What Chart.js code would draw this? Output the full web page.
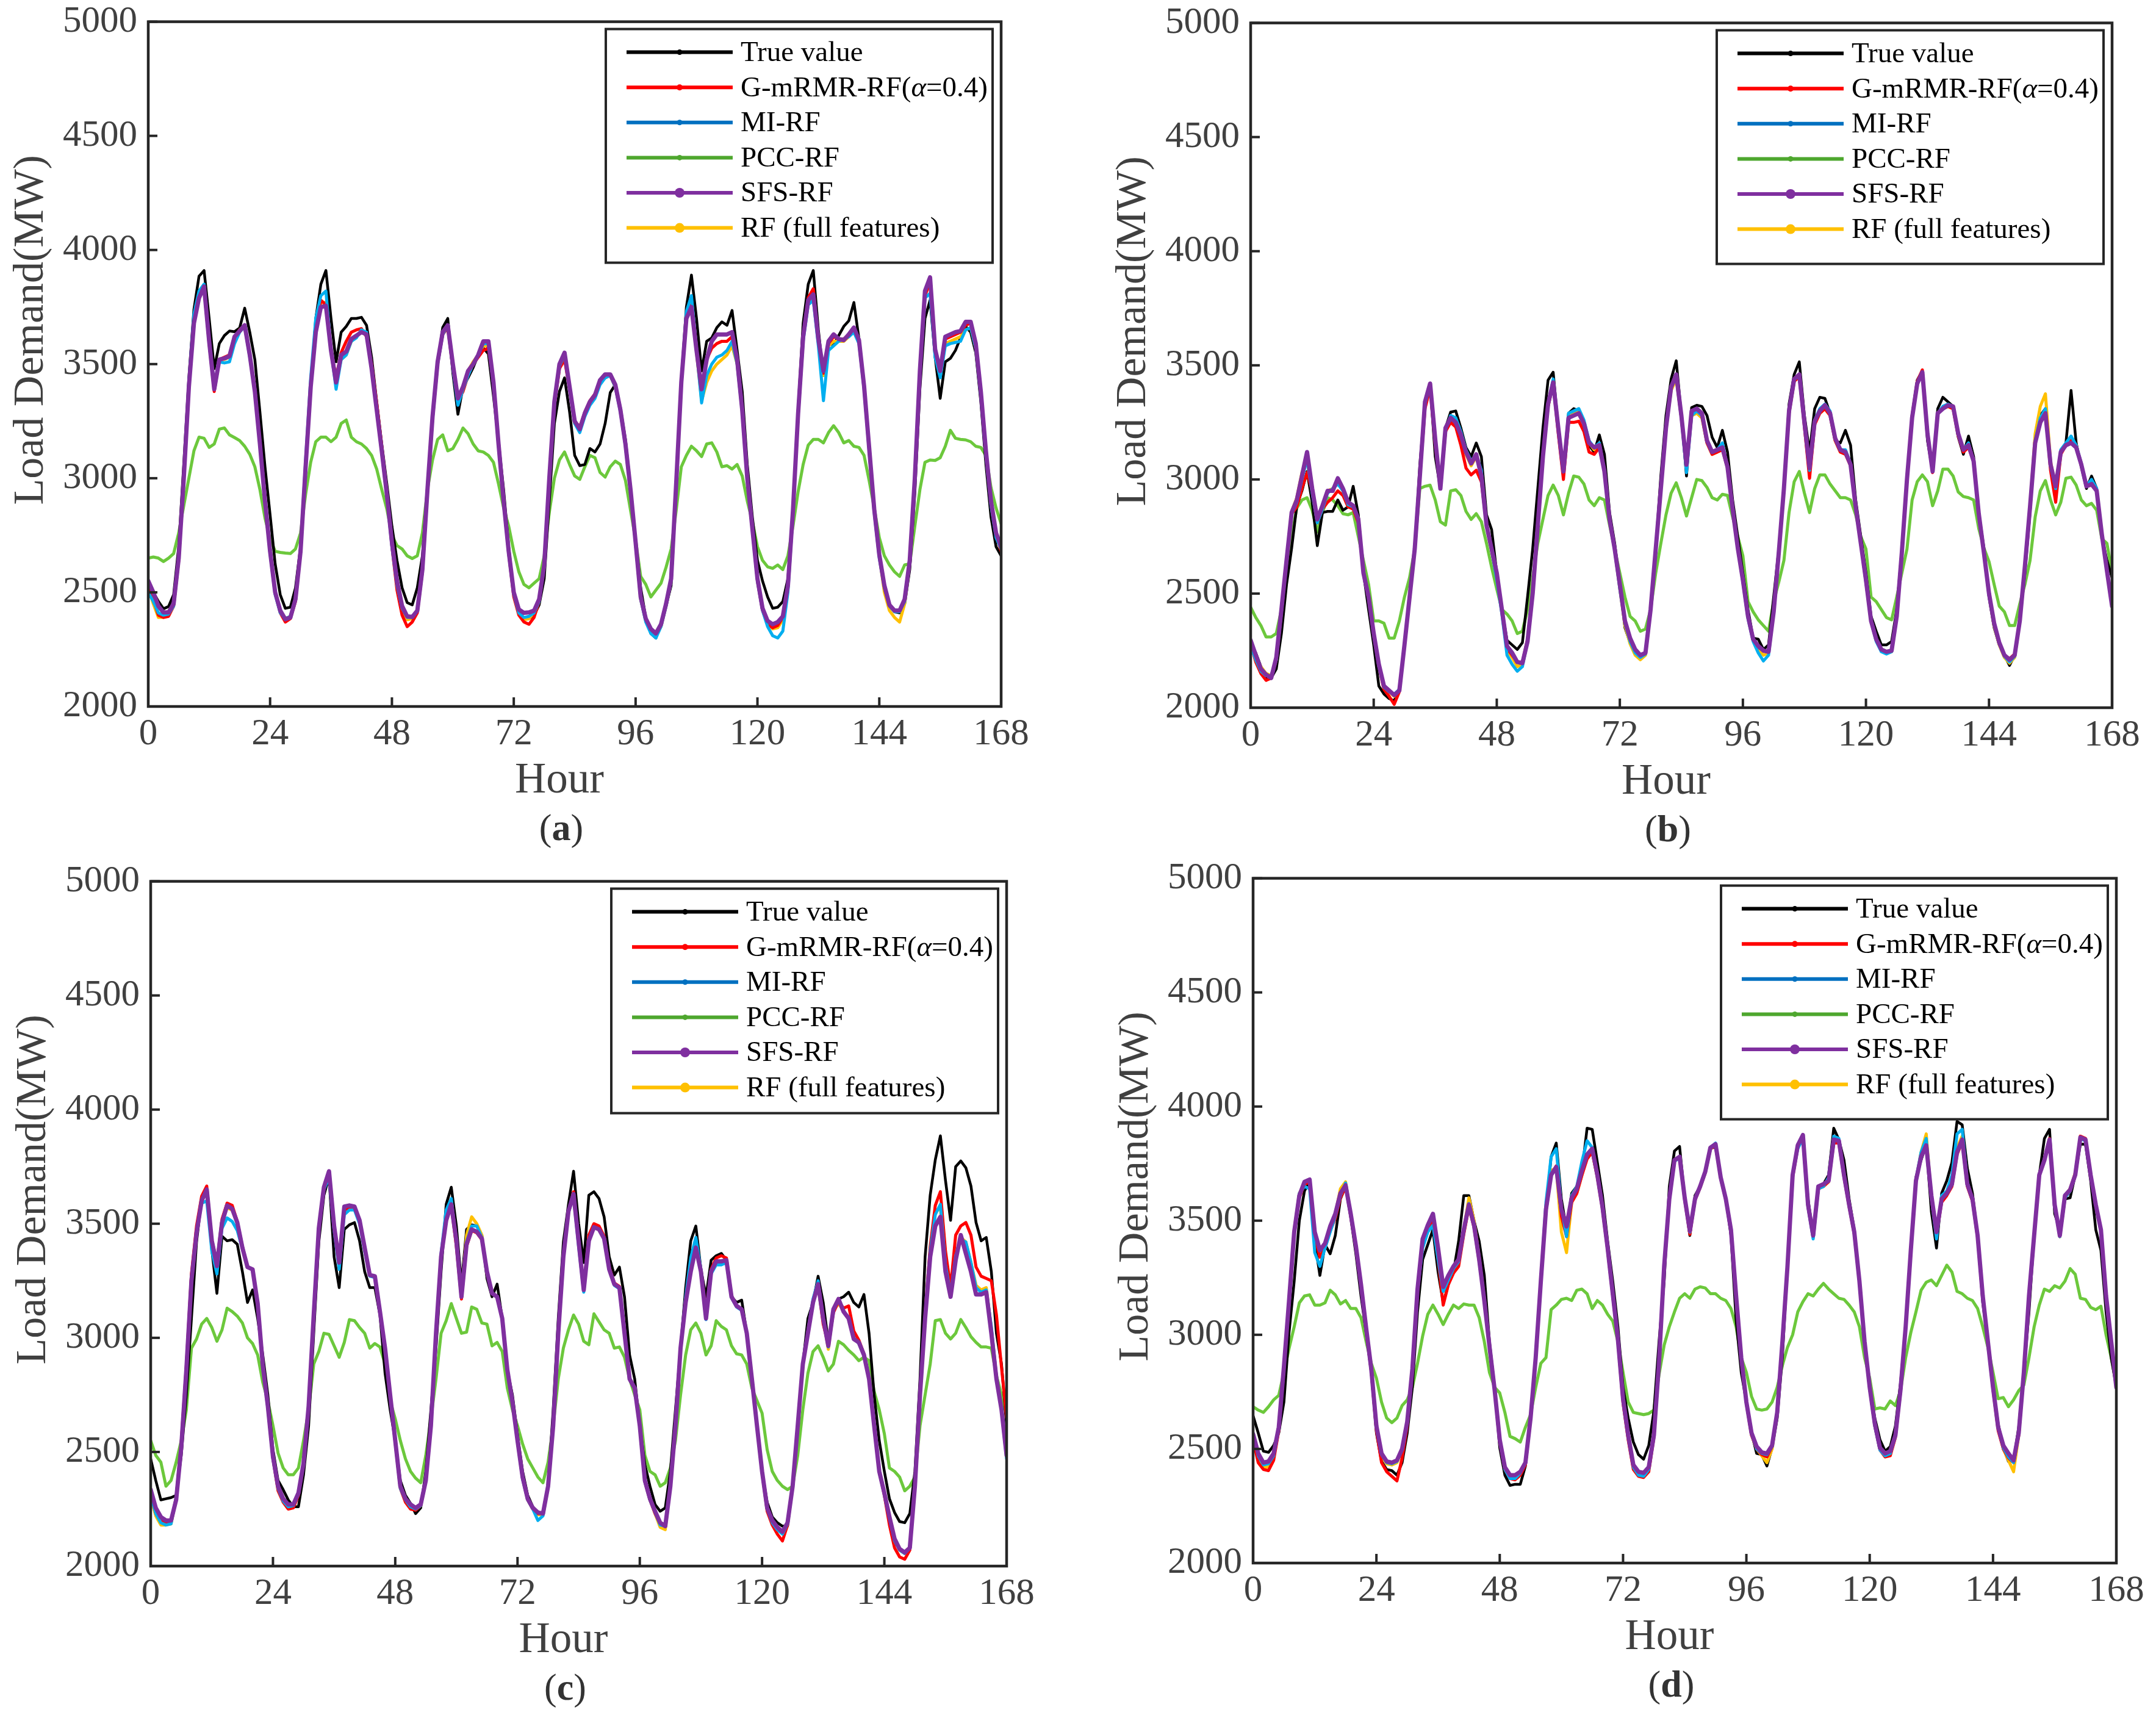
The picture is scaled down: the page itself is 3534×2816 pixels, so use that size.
<!DOCTYPE html>
<html><head><meta charset="utf-8">
<script src="https://cdn.jsdelivr.net/npm/chart.js@4.4.1/dist/chart.umd.min.js"></script>
<style>
html,body{margin:0;padding:0;background:#fff;}
body{width:3534px;height:2816px;position:relative;overflow:hidden;}
canvas{position:absolute;}
</style></head><body>
<canvas id="ca"></canvas><canvas id="cb"></canvas><canvas id="cc"></canvas><canvas id="cd"></canvas>
<script>
// ---------- categories / ticks ----------
const hours = Array.from({length:169},(_,i)=>i);
const xTicks = [0,24,48,72,96,120,144,168];
const yTicks = [2000,2500,3000,3500,4000,4500,5000];
const seriesNames = ['True value','G-mRMR-RF(α=0.4)','MI-RF','PCC-RF','SFS-RF','RF (full features)'];
const panelTags = ['a','b','c','d'];
const xTitle = 'Hour';
const yTitle = 'Load Demand(MW)';

// ---------- panel (a) ----------
const aTrue=[2500,2500,2460,2428,2438,2490,2700,3065,3440,3740,3885,3910,3700,3480,3590,3625,3645,3642,3658,3745,3640,3520,3290,3050,
2840,2625,2490,2430,2435,2520,2700,3050,3400,3700,3850,3910,3700,3510,3640,3665,3700,3700,3705,3670,3530,3335,3150,2975,
2790,2640,2520,2455,2445,2520,2660,2970,3270,3500,3660,3700,3460,3280,3400,3440,3485,3540,3570,3545,3360,3160,2950,2700,
2500,2420,2385,2385,2400,2445,2560,2900,3240,3380,3440,3290,3100,3055,3060,3130,3115,3150,3240,3375,3410,3310,3170,2960,
2730,2520,2390,2320,2300,2360,2440,2530,2960,3430,3750,3890,3700,3470,3600,3615,3660,3685,3670,3735,3560,3380,3060,2830,
2640,2550,2480,2430,2435,2460,2560,2850,3300,3680,3850,3910,3650,3450,3590,3585,3625,3665,3690,3770,3610,3410,3140,2870,
2670,2530,2445,2415,2410,2450,2600,2935,3390,3700,3780,3530,3350,3510,3525,3560,3615,3665,3640,3550,3335,3060,2830,2700,2660];
const aGM=[2530,2470,2400,2390,2395,2440,2640,3000,3400,3690,3800,3830,3590,3380,3520,3530,3540,3620,3650,3660,3540,3390,3160,2910,
2680,2500,2410,2370,2385,2460,2680,3060,3410,3660,3780,3760,3560,3440,3550,3600,3640,3650,3655,3620,3500,3330,3140,2940,
2700,2510,2400,2350,2370,2410,2590,2940,3260,3500,3630,3660,3480,3340,3380,3450,3500,3530,3560,3570,3420,3160,2910,2670,
2480,2400,2370,2360,2390,2460,2620,3000,3320,3480,3520,3390,3250,3225,3290,3340,3370,3420,3440,3450,3400,3300,3150,2950,
2720,2480,2380,2335,2320,2360,2450,2560,2980,3420,3700,3760,3560,3400,3520,3570,3590,3600,3600,3620,3520,3300,3000,2780,
2550,2420,2360,2345,2355,2390,2530,2860,3280,3630,3790,3830,3610,3460,3590,3620,3610,3610,3630,3650,3600,3400,3130,2860,
2660,2520,2440,2420,2420,2470,2640,3000,3470,3800,3860,3560,3480,3610,3620,3630,3640,3670,3680,3580,3370,3110,2890,2750,2680];
const aMI=[2500,2460,2410,2400,2405,2440,2650,3010,3420,3720,3820,3850,3600,3410,3510,3505,3510,3590,3640,3665,3530,3380,3150,2900,
2670,2490,2410,2385,2395,2470,2690,3080,3440,3700,3800,3820,3560,3390,3520,3540,3600,3615,3650,3640,3480,3300,3110,2920,
2700,2530,2430,2390,2390,2420,2590,2950,3260,3500,3630,3670,3480,3320,3390,3450,3500,3540,3590,3590,3410,3140,2890,2670,
2490,2410,2390,2395,2410,2460,2620,3000,3330,3490,3540,3390,3240,3200,3270,3320,3350,3410,3440,3450,3400,3290,3140,2940,
2710,2470,2370,2320,2300,2350,2440,2550,2980,3410,3730,3800,3560,3330,3450,3500,3530,3540,3560,3600,3500,3290,2990,2770,
2550,2420,2350,2310,2300,2330,2500,2850,3270,3600,3760,3780,3580,3340,3560,3580,3600,3610,3620,3640,3590,3390,3120,2850,
2650,2520,2440,2415,2415,2460,2630,2990,3460,3790,3810,3530,3440,3580,3590,3595,3600,3650,3660,3570,3360,3100,2880,2740,2690];
const aPCC=[2650,2655,2650,2635,2650,2670,2760,2880,3000,3120,3180,3175,3135,3150,3215,3220,3190,3178,3165,3140,3105,3050,2950,2825,
2735,2680,2675,2672,2670,2690,2760,2930,3070,3160,3180,3180,3160,3180,3240,3255,3180,3160,3150,3130,3100,3040,2950,2865,
2750,2705,2690,2660,2648,2660,2760,2950,3080,3170,3190,3120,3130,3170,3220,3195,3150,3120,3115,3100,3070,2975,2870,2790,
2680,2590,2535,2520,2540,2560,2660,2850,3000,3080,3115,3060,3010,2995,3050,3100,3090,3025,3005,3050,3075,3060,2990,2860,
2730,2570,2535,2480,2510,2540,2610,2690,2860,3050,3100,3140,3120,3095,3150,3155,3115,3050,3055,3040,3060,3010,2900,2810,
2700,2640,2612,2605,2620,2600,2660,2790,2940,3060,3145,3170,3170,3155,3200,3230,3200,3155,3165,3140,3135,3100,2990,2870,
2740,2660,2620,2590,2570,2620,2625,2790,2950,3070,3080,3078,3090,3140,3210,3175,3170,3168,3160,3140,3135,3100,2960,2870,2800];
const aSFS=[2550,2500,2440,2412,2412,2450,2650,3000,3400,3680,3790,3840,3600,3390,3520,3525,3535,3620,3645,3670,3540,3380,3150,2900,
2680,2500,2420,2382,2390,2470,2680,3050,3400,3640,3750,3755,3560,3420,3540,3555,3610,3625,3640,3630,3480,3300,3120,2930,
2720,2550,2440,2395,2392,2420,2600,2950,3270,3510,3640,3670,3500,3350,3400,3470,3500,3540,3600,3600,3420,3150,2900,2680,
2500,2425,2410,2412,2420,2470,2620,3000,3335,3500,3550,3400,3250,3215,3285,3335,3365,3430,3455,3455,3410,3300,3150,2950,
2720,2480,2385,2340,2320,2360,2450,2560,2980,3420,3700,3750,3560,3390,3520,3600,3630,3630,3630,3640,3520,3300,3000,2780,
2560,2430,2375,2360,2370,2395,2530,2860,3280,3620,3780,3805,3610,3470,3600,3630,3610,3605,3630,3660,3605,3405,3135,2865,
2665,2530,2445,2420,2420,2470,2640,3000,3470,3820,3880,3565,3470,3620,3630,3640,3645,3685,3685,3590,3380,3120,2900,2760,2700];
const aRF=[2520,2450,2390,2390,2400,2440,2640,3000,3410,3700,3800,3830,3590,3400,3520,3520,3530,3610,3650,3670,3540,3390,3150,2900,
2680,2500,2415,2385,2395,2470,2690,3060,3410,3660,3770,3770,3560,3430,3520,3540,3600,3620,3645,3630,3480,3310,3130,2940,
2720,2540,2430,2380,2385,2420,2600,2950,3270,3510,3640,3670,3490,3350,3400,3470,3510,3540,3580,3580,3420,3150,2900,2680,
2490,2410,2380,2385,2410,2470,2620,3000,3330,3490,3540,3390,3240,3215,3280,3330,3360,3420,3450,3450,3400,3300,3150,2950,
2710,2470,2375,2330,2310,2350,2440,2550,2980,3410,3700,3750,3550,3340,3420,3470,3500,3520,3540,3580,3500,3300,3000,2780,
2560,2430,2370,2340,2345,2380,2520,2850,3270,3610,3770,3800,3600,3450,3580,3600,3600,3600,3620,3650,3600,3400,3130,2860,
2660,2500,2420,2390,2370,2450,2630,3000,3460,3800,3860,3550,3450,3590,3600,3610,3620,3650,3660,3570,3370,3110,2890,2750,2690];

// ---------- panel (b) ----------
const bTrue=[2280,2240,2180,2130,2130,2170,2325,2540,2700,2885,2950,3035,2900,2710,2855,2860,2860,2910,2865,2880,2970,2845,2590,2430,
2275,2095,2060,2040,2030,2085,2275,2485,2695,3065,3330,3420,3100,2960,3225,3295,3300,3225,3140,3100,3160,3100,2845,2780,
2590,2430,2295,2275,2255,2285,2485,2695,2960,3225,3435,3470,3225,3035,3290,3310,3300,3245,3150,3120,3195,3110,2855,2720,
2540,2350,2285,2240,2230,2240,2430,2695,3015,3280,3440,3520,3280,3015,3315,3325,3320,3280,3185,3140,3215,3120,2910,2750,
2590,2430,2305,2300,2255,2275,2485,2695,2960,3330,3460,3515,3280,3120,3310,3360,3355,3290,3170,3160,3215,3150,2910,2750,
2590,2400,2335,2275,2275,2290,2430,2695,3015,3280,3435,3475,3170,3035,3310,3360,3340,3320,3185,3110,3190,3100,2855,2700,
2485,2350,2275,2230,2185,2230,2380,2590,2855,3170,3280,3310,3055,2940,3120,3160,3390,3160,3055,2960,3015,2960,2750,2645,2570];
const bGM=[2280,2200,2150,2120,2130,2210,2420,2640,2850,2880,2960,3030,2950,2810,2870,2900,2920,2950,2930,2880,2870,2810,2590,2480,
2320,2180,2080,2050,2015,2070,2275,2490,2700,3010,3310,3400,3150,2960,3210,3250,3230,3150,3050,3020,3040,2990,2800,2690,
2580,2420,2260,2230,2200,2200,2300,2510,2810,3100,3320,3420,3200,3000,3250,3250,3255,3210,3120,3110,3140,3035,2830,2700,
2530,2370,2300,2250,2230,2240,2430,2695,2960,3225,3400,3450,3270,3060,3290,3300,3280,3160,3110,3120,3130,3050,2870,2700,
2560,2400,2300,2265,2250,2245,2420,2680,2960,3290,3430,3450,3230,3005,3240,3290,3310,3280,3170,3120,3110,3060,2880,2720,
2550,2380,2295,2250,2240,2250,2400,2680,3000,3280,3430,3480,3200,3030,3290,3310,3320,3310,3190,3120,3140,3080,2850,2680,
2500,2360,2285,2230,2215,2235,2380,2620,2880,3160,3260,3300,3040,2900,3110,3150,3170,3140,3060,2970,2975,2950,2760,2600,2450];
const bMI=[2270,2210,2160,2140,2140,2210,2420,2640,2850,2900,3000,3090,2940,2810,2870,2940,2960,2980,2950,2890,2880,2820,2590,2480,
2320,2180,2090,2070,2060,2080,2275,2490,2700,3020,3330,3420,3170,2960,3220,3280,3270,3210,3130,3080,3110,3040,2800,2690,
2560,2410,2230,2190,2160,2180,2290,2500,2800,3100,3330,3440,3230,3040,3290,3300,3310,3260,3170,3140,3160,3040,2820,2690,
2520,2370,2290,2240,2220,2235,2430,2695,2960,3220,3400,3450,3270,3030,3280,3300,3280,3170,3120,3130,3160,3050,2870,2700,
2550,2390,2290,2240,2205,2230,2420,2680,2960,3300,3440,3450,3240,3040,3260,3310,3330,3300,3180,3130,3130,3070,2880,2720,
2550,2380,2290,2245,2235,2245,2400,2680,3000,3270,3420,3460,3200,3035,3290,3320,3330,3320,3200,3130,3160,3080,2850,2680,
2490,2360,2280,2225,2200,2225,2380,2620,2880,3170,3270,3310,3060,2960,3130,3160,3190,3150,3070,2970,3000,2960,2760,2600,2450];
const bPCC=[2440,2395,2360,2310,2310,2325,2430,2590,2750,2875,2910,2920,2865,2770,2855,2920,2910,2885,2850,2845,2855,2750,2645,2540,
2380,2380,2370,2305,2305,2380,2485,2570,2695,2960,2970,2975,2910,2815,2800,2950,2955,2930,2860,2825,2850,2815,2720,2615,
2520,2430,2410,2380,2325,2335,2430,2570,2720,2825,2930,2975,2930,2845,2940,3015,3010,2980,2910,2885,2920,2910,2800,2695,
2590,2485,2400,2380,2335,2345,2430,2590,2720,2845,2940,2985,2920,2840,2920,3000,2995,2965,2920,2910,2935,2930,2835,2750,
2665,2465,2420,2385,2360,2335,2465,2550,2645,2855,2990,3035,2940,2855,2960,3020,3020,2980,2950,2920,2920,2910,2845,2750,
2695,2485,2465,2430,2395,2385,2485,2590,2695,2910,2990,3020,2990,2885,2950,3045,3045,3015,2945,2925,2920,2910,2785,2700,
2640,2540,2445,2420,2360,2360,2455,2540,2645,2835,2950,2995,2910,2845,2900,3005,3010,2975,2910,2885,2895,2865,2740,2720,2590];
const bSFS=[2295,2230,2170,2145,2130,2220,2430,2645,2855,2910,3015,3120,2960,2825,2885,2950,2950,3005,2960,2900,2885,2825,2590,2485,
2325,2190,2095,2075,2055,2075,2275,2485,2695,3015,3340,3420,3175,2960,3225,3270,3250,3195,3120,3070,3110,3015,2800,2695,
2590,2430,2270,2240,2200,2195,2290,2500,2800,3100,3330,3425,3225,3035,3270,3280,3290,3245,3160,3140,3150,3035,2825,2695,
2540,2380,2305,2255,2230,2240,2430,2695,2960,3225,3405,3460,3280,3065,3300,3310,3290,3170,3120,3130,3140,3055,2870,2700,
2560,2400,2300,2270,2250,2245,2420,2680,2960,3300,3440,3460,3250,3050,3255,3300,3325,3290,3180,3130,3120,3065,2880,2720,
2560,2380,2300,2255,2245,2250,2400,2680,3000,3270,3420,3470,3200,3035,3290,3310,3325,3320,3200,3130,3150,3080,2850,2680,
2500,2370,2285,2230,2210,2230,2380,2620,2880,3160,3250,3290,3065,2970,3120,3150,3160,3140,3065,2970,2980,2950,2760,2600,2445];
const bRF=[2260,2220,2180,2150,2140,2210,2420,2650,2860,2920,3030,3080,2950,2820,2880,2950,2960,2990,2950,2890,2880,2820,2590,2480,
2320,2190,2090,2070,2050,2075,2275,2490,2700,3015,3330,3410,3170,2960,3210,3260,3250,3190,3110,3060,3100,3020,2800,2690,
2580,2420,2250,2220,2180,2190,2290,2500,2800,3100,3320,3420,3220,3030,3270,3290,3300,3250,3160,3130,3150,3035,2820,2690,
2520,2360,2280,2230,2210,2230,2430,2695,2960,3220,3390,3440,3270,3050,3280,3290,3270,3160,3110,3120,3140,3050,2870,2700,
2555,2395,2300,2260,2230,2240,2420,2680,2960,3290,3430,3450,3240,3030,3250,3290,3310,3280,3170,3120,3120,3060,2880,2720,
2555,2380,2295,2250,2240,2245,2400,2680,3000,3270,3420,3470,3200,3035,3290,3310,3320,3310,3190,3130,3150,3080,2850,2680,
2490,2355,2275,2220,2195,2220,2380,2620,2880,3200,3320,3375,3080,2960,3120,3150,3175,3150,3060,2970,2985,2955,2760,2600,2450];

// ---------- panel (c) ----------
const cTrue=[2470,2375,2290,2295,2300,2310,2485,2750,3085,3420,3610,3650,3385,3195,3445,3425,3430,3410,3290,3155,3210,3085,2925,2750,
2510,2375,2335,2290,2260,2260,2400,2615,3020,3420,3625,3705,3355,3220,3475,3495,3505,3425,3290,3220,3220,3100,2845,2685,
2550,2375,2310,2275,2230,2255,2415,2685,2955,3290,3585,3660,3490,3235,3475,3495,3490,3450,3260,3180,3235,3085,2860,2750,
2575,2415,2310,2260,2235,2230,2350,2685,3085,3420,3585,3730,3500,3330,3625,3640,3610,3530,3355,3275,3310,3180,2925,2820,
2615,2445,2350,2270,2240,2255,2415,2685,2955,3220,3425,3490,3300,3180,3340,3360,3370,3340,3180,3155,3165,3020,2820,2615,
2415,2280,2215,2190,2175,2175,2350,2615,2885,3085,3155,3270,3155,2980,3130,3170,3180,3200,3155,3135,3190,3020,2750,2550,
2415,2295,2235,2195,2190,2230,2415,2820,3355,3625,3780,3885,3690,3515,3750,3775,3745,3665,3505,3425,3440,3290,3020,2885,2615];
const cGM=[2320,2230,2200,2190,2195,2300,2540,2880,3280,3490,3620,3665,3430,3330,3520,3590,3580,3510,3400,3310,3300,3150,2880,2700,
2470,2330,2280,2250,2255,2310,2450,2700,3100,3480,3650,3720,3480,3320,3560,3570,3570,3510,3390,3275,3270,3115,2950,2750,
2540,2340,2280,2250,2245,2265,2375,2615,3020,3350,3510,3580,3400,3170,3400,3470,3460,3430,3285,3195,3180,3085,2860,2720,
2545,2385,2290,2250,2230,2230,2350,2615,3020,3350,3550,3640,3420,3220,3450,3500,3490,3445,3310,3240,3225,3020,2820,2780,
2610,2370,2290,2230,2185,2175,2350,2615,2955,3170,3320,3420,3300,3110,3300,3350,3360,3350,3185,3140,3125,3020,2820,2615,
2410,2240,2180,2140,2110,2180,2350,2615,2885,3030,3160,3230,3060,2970,3110,3160,3130,3140,3030,2990,2930,2820,2615,2415,
2310,2180,2080,2040,2030,2070,2350,2750,3100,3400,3580,3640,3380,3220,3450,3490,3505,3450,3310,3270,3260,3250,3100,2870,2650];
const cMI=[2310,2230,2190,2180,2185,2300,2530,2870,3260,3460,3590,3600,3380,3280,3480,3525,3510,3470,3390,3310,3300,3140,2870,2690,
2470,2340,2285,2260,2265,2315,2450,2700,3100,3480,3650,3700,3470,3300,3540,3560,3560,3500,3380,3270,3265,3110,2950,2745,
2545,2340,2290,2260,2250,2265,2375,2615,3020,3370,3560,3610,3420,3200,3420,3490,3490,3440,3290,3195,3180,3085,2860,2720,
2545,2380,2290,2250,2200,2220,2350,2615,3020,3350,3550,3620,3400,3200,3430,3485,3475,3430,3300,3230,3215,3020,2820,2780,
2610,2370,2290,2235,2180,2175,2350,2615,2955,3180,3350,3440,3300,3080,3280,3320,3320,3330,3175,3135,3120,3020,2820,2615,
2410,2250,2190,2160,2140,2185,2350,2615,2885,3030,3170,3250,3080,2960,3120,3165,3115,3090,3000,2975,2920,2820,2615,2415,
2315,2210,2110,2070,2055,2080,2350,2750,3090,3380,3540,3585,3320,3190,3360,3430,3420,3330,3220,3200,3210,3050,2830,2680,2470];
const cPCC=[2550,2485,2455,2350,2375,2455,2550,2685,2955,2995,3060,3085,3045,2985,3035,3130,3115,3095,3065,3000,2975,2925,2805,2725,
2615,2495,2430,2400,2400,2430,2550,2685,2885,2940,3020,3015,2965,2915,2980,3080,3075,3045,3020,2955,2975,2960,2885,2725,
2645,2550,2470,2415,2385,2365,2485,2645,2820,3020,3075,3150,3085,3020,3025,3135,3125,3065,3060,2965,2980,2940,2780,2685,
2615,2535,2470,2430,2390,2365,2455,2615,2820,2955,3035,3100,3060,2985,2970,3105,3070,3035,3020,2955,2960,2915,2820,2750,
2685,2485,2415,2400,2350,2365,2430,2550,2750,2925,3035,3065,3020,2925,2965,3075,3050,3035,2965,2930,2925,2885,2780,2725,
2670,2510,2415,2375,2350,2335,2350,2485,2685,2845,2940,2965,2915,2855,2885,2985,2970,2945,2925,2900,2915,2900,2765,2685,
2580,2430,2415,2390,2330,2350,2390,2615,2750,2885,3075,3080,3020,2995,3020,3080,3045,3005,2980,2960,2960,2955,2835,2750,2660];
const cSFS=[2335,2255,2215,2200,2200,2290,2520,2860,3250,3460,3600,3650,3425,3315,3505,3580,3565,3505,3395,3310,3300,3150,2880,2700,
2480,2350,2295,2270,2270,2320,2450,2700,3100,3480,3660,3730,3490,3330,3575,3580,3575,3515,3395,3275,3270,3115,2955,2750,
2550,2350,2295,2270,2255,2270,2375,2615,3020,3355,3515,3585,3425,3180,3410,3475,3465,3435,3290,3195,3180,3085,2860,2720,
2550,2390,2295,2255,2235,2230,2350,2615,3020,3355,3555,3630,3420,3210,3425,3485,3475,3435,3300,3235,3220,3020,2820,2780,
2615,2375,2295,2240,2190,2175,2350,2615,2955,3155,3290,3395,3290,3085,3290,3335,3335,3340,3180,3140,3125,3020,2820,2615,
2415,2255,2200,2170,2150,2190,2350,2615,2885,3020,3155,3235,3085,2965,3125,3170,3115,3085,2995,2980,2925,2820,2615,2415,
2320,2215,2120,2075,2060,2080,2350,2750,3085,3355,3490,3530,3290,3180,3340,3450,3370,3290,3190,3190,3200,3020,2820,2685,2485];
const cRF=[2300,2220,2180,2180,2185,2295,2530,2870,3270,3470,3610,3640,3410,3300,3510,3570,3560,3500,3395,3310,3300,3150,2880,2700,
2475,2345,2290,2265,2265,2315,2450,2700,3100,3480,3655,3720,3480,3320,3560,3575,3570,3510,3390,3275,3270,3115,2955,2750,
2550,2345,2290,2265,2250,2265,2375,2615,3020,3360,3530,3600,3430,3190,3450,3530,3500,3450,3280,3195,3180,3085,2860,2720,
2550,2385,2290,2250,2225,2225,2350,2615,3020,3355,3555,3630,3420,3210,3430,3485,3475,3435,3300,3235,3220,3020,2820,2780,
2615,2370,2290,2230,2170,2160,2350,2615,2955,3160,3300,3400,3290,3085,3290,3335,3335,3340,3180,3140,3125,3020,2820,2615,
2415,2250,2195,2165,2145,2190,2350,2615,2885,3020,3155,3235,3085,2950,3120,3150,3120,3085,2995,2980,2925,2820,2615,2415,
2320,2210,2115,2070,2055,2080,2350,2750,3090,3380,3550,3570,3320,3190,3360,3440,3420,3330,3230,3210,3220,3040,2830,2685,2480];

// ---------- panel (d) ----------
const dTrue=[2645,2570,2490,2485,2515,2570,2705,3010,3235,3500,3630,3675,3410,3260,3395,3355,3435,3595,3650,3515,3355,3170,3010,2835,
2570,2445,2410,2405,2385,2440,2570,2770,3100,3330,3395,3460,3275,3140,3220,3275,3410,3610,3610,3500,3410,3260,2970,2770,
2505,2385,2340,2345,2345,2425,2635,2900,3235,3540,3780,3840,3595,3460,3620,3650,3715,3905,3900,3755,3610,3410,3235,3035,
2770,2635,2530,2475,2455,2515,2665,2970,3235,3650,3805,3825,3600,3435,3610,3650,3715,3820,3820,3690,3595,3435,3065,2835,
2705,2570,2480,2475,2425,2505,2635,2900,3300,3700,3835,3865,3595,3435,3650,3660,3700,3905,3855,3765,3595,3460,3235,2970,
2770,2635,2540,2490,2510,2600,2790,3035,3370,3690,3765,3835,3540,3380,3620,3675,3755,3935,3920,3730,3620,3435,3140,2970,
2770,2610,2505,2445,2450,2595,2835,3100,3435,3700,3860,3900,3530,3460,3595,3600,3700,3835,3835,3675,3460,3370,3100,2900,2770];
const dGM=[2540,2440,2410,2405,2450,2580,2850,3140,3440,3600,3660,3670,3430,3340,3380,3455,3510,3600,3650,3520,3380,3210,3020,2840,
2580,2440,2400,2380,2360,2460,2600,2840,3190,3400,3460,3500,3330,3130,3220,3270,3300,3440,3560,3470,3320,3150,2950,2760,
2530,2410,2370,2365,2385,2430,2630,2900,3230,3540,3700,3740,3520,3430,3580,3620,3700,3770,3800,3690,3550,3370,3170,2970,
2700,2540,2410,2380,2375,2400,2550,2870,3290,3590,3760,3780,3590,3440,3590,3645,3710,3815,3830,3685,3590,3455,3165,2900,
2700,2560,2500,2475,2465,2510,2660,2960,3300,3690,3820,3870,3560,3430,3640,3650,3670,3840,3840,3690,3560,3440,3230,2965,
2765,2600,2495,2465,2470,2550,2750,3030,3360,3670,3780,3840,3600,3440,3580,3610,3650,3790,3845,3650,3585,3425,3160,2965,
2760,2580,2500,2460,2440,2560,2830,3160,3430,3700,3770,3860,3570,3430,3600,3630,3700,3870,3860,3695,3565,3455,3165,2965,2765];
const dMI=[2570,2470,2430,2435,2470,2590,2860,3150,3450,3620,3650,3640,3360,3300,3380,3450,3520,3610,3665,3530,3390,3220,3030,2850,
2600,2475,2440,2435,2445,2495,2620,2850,3190,3380,3450,3480,3330,3190,3240,3290,3320,3450,3575,3485,3330,3150,2950,2760,
2535,2410,2370,2370,2395,2440,2635,2900,3240,3580,3780,3815,3560,3430,3610,3650,3760,3850,3820,3700,3560,3380,3180,2980,
2710,2550,2420,2385,2380,2410,2560,2880,3300,3595,3760,3775,3600,3450,3595,3650,3715,3820,3840,3690,3595,3460,3170,2900,
2700,2565,2500,2480,2475,2510,2660,2965,3300,3700,3815,3860,3560,3420,3640,3650,3690,3870,3860,3700,3565,3445,3230,2965,
2765,2600,2495,2470,2480,2555,2760,3035,3370,3680,3800,3860,3600,3420,3610,3630,3700,3880,3900,3670,3590,3430,3165,2965,
2765,2590,2505,2465,2440,2565,2835,3170,3435,3700,3770,3840,3560,3430,3600,3630,3700,3860,3850,3700,3565,3455,3165,2965,2765];
const dPCC=[2685,2670,2660,2685,2715,2735,2835,2940,3035,3140,3170,3175,3130,3130,3140,3195,3175,3135,3150,3115,3115,3075,2970,2875,
2810,2705,2635,2615,2635,2690,2715,2770,2875,2995,3090,3130,3090,3045,3090,3130,3115,3135,3130,3130,3075,2970,2835,2770,
2745,2660,2555,2545,2530,2595,2650,2770,2875,2900,3110,3130,3155,3160,3150,3195,3200,3180,3115,3150,3130,3090,3060,2970,
2835,2705,2660,2655,2650,2655,2670,2825,2955,3035,3100,3160,3180,3160,3200,3210,3205,3180,3180,3160,3150,3115,3035,2900,
2835,2730,2675,2670,2675,2705,2770,2865,2945,3000,3100,3145,3180,3170,3200,3225,3200,3180,3160,3155,3130,3100,3035,2900,
2810,2675,2680,2675,2710,2690,2755,2900,3010,3100,3195,3230,3240,3215,3260,3305,3275,3190,3180,3160,3150,3115,3035,2945,
2835,2720,2725,2685,2715,2755,2780,2900,3035,3130,3200,3190,3215,3205,3235,3290,3265,3160,3155,3120,3110,3125,3000,2900,2780];
const dSFS=[2565,2480,2440,2445,2480,2595,2860,3150,3450,3610,3670,3680,3450,3370,3400,3475,3530,3620,3655,3530,3390,3220,3030,2850,
2600,2480,2445,2440,2450,2500,2620,2850,3200,3420,3480,3530,3380,3210,3260,3300,3330,3460,3570,3480,3330,3150,2950,2760,
2540,2420,2385,2385,2400,2440,2635,2900,3235,3550,3700,3735,3550,3475,3600,3640,3720,3790,3815,3700,3560,3380,3180,2980,
2720,2560,2430,2400,2395,2420,2560,2880,3300,3595,3765,3780,3600,3455,3595,3650,3715,3820,3835,3690,3595,3460,3170,2900,
2705,2570,2510,2485,2480,2515,2660,2965,3300,3700,3830,3875,3570,3435,3650,3660,3675,3855,3850,3700,3570,3450,3235,2970,
2770,2610,2505,2480,2490,2560,2760,3035,3370,3675,3780,3830,3610,3450,3595,3620,3660,3800,3855,3660,3595,3435,3170,2970,
2770,2595,2515,2480,2450,2570,2835,3170,3435,3700,3765,3855,3570,3435,3610,3635,3700,3865,3855,3700,3570,3460,3170,2970,2770];
const dRF=[2550,2460,2420,2420,2465,2585,2855,3160,3460,3620,3660,3670,3440,3360,3390,3470,3530,3640,3670,3530,3390,3220,3030,2850,
2600,2470,2435,2430,2440,2495,2620,2850,3200,3410,3470,3510,3360,3190,3250,3290,3320,3460,3600,3500,3340,3160,2955,2760,
2535,2410,2375,2370,2390,2435,2635,2900,3235,3560,3720,3730,3450,3360,3580,3620,3700,3780,3800,3690,3550,3370,3170,2975,
2710,2550,2420,2390,2385,2410,2555,2875,3300,3590,3760,3780,3600,3450,3590,3645,3710,3815,3830,3690,3595,3455,3170,2900,
2700,2560,2500,2470,2440,2500,2655,2960,3300,3700,3825,3870,3560,3430,3640,3650,3670,3860,3850,3700,3570,3450,3235,2970,
2770,2605,2500,2475,2480,2555,2760,3035,3370,3675,3800,3880,3600,3440,3590,3620,3660,3820,3870,3660,3595,3435,3170,2970,
2770,2590,2500,2450,2400,2560,2830,3170,3435,3700,3770,3855,3570,3430,3610,3640,3710,3870,3855,3700,3570,3460,3170,2970,2770];

// ---------- styling ----------
const FONT = '"Liberation Serif","Times New Roman",Times,serif';
const TXT = '#404040', AX = '#262626';
const styles = [
  {color:'#000000', legend:'#000000', width:4.5, order:5, r:4.5},
  {color:'#FF0000', legend:'#FF0000', width:5,   order:3, r:5},
  {color:'#00AEEF', legend:'#0070C0', width:5,   order:2, r:4.5},
  {color:'#6CC83C', legend:'#4EA72E', width:5,   order:6, r:4.5},
  {color:'#7F2F9F', legend:'#7F2F9F', width:7,   order:1, r:8},
  {color:'#FFC000', legend:'#FFC000', width:5,   order:4, r:8}
];
const panels = [
  {id:'ca', area:{l:243,  t:31,   r:1641, b:1158}, series:[aTrue,aGM,aMI,aPCC,aSFS,aRF], legendH:383},
  {id:'cb', area:{l:2050, t:33,   r:3462, b:1160}, series:[bTrue,bGM,bMI,bPCC,bSFS,bRF], legendH:383},
  {id:'cc', area:{l:247,  t:1440, r:1650, b:2567}, series:[cTrue,cGM,cMI,cPCC,cSFS,cRF], legendH:368},
  {id:'cd', area:{l:2054, t:1435, r:3469, b:2562}, series:[dTrue,dGM,dMI,dPCC,dSFS,dRF], legendH:383}
];
const Y_W = 243, X_H = 160, PAD_T = 50, PAD_R = 70, PAD_B = 260;

function drawSegments(ctx, segs, x, y){
  let cx = x;
  segs.forEach(s=>{ ctx.font = s.f; ctx.fillText(s.t, cx, y); cx += ctx.measureText(s.t).width; });
}
function legendSegs(label, size){
  const n = size+'px '+FONT, it = 'italic '+size+'px '+FONT;
  const k = label.indexOf('α');
  if (k < 0) return [{t:label, f:n}];
  return [{t:label.slice(0,k), f:n},{t:'α', f:it},{t:label.slice(k+1), f:n}];
}

const decorPlugin = {
  id:'decor',
  afterDraw(chart, args, opts){
    const {ctx, chartArea:a, scales:{x, y}} = chart;
    ctx.save();
    // inward ticks
    ctx.strokeStyle = AX; ctx.lineWidth = 4; ctx.lineCap = 'butt';
    xTicks.forEach(v=>{ const px = x.getPixelForValue(v); ctx.beginPath(); ctx.moveTo(px, a.bottom); ctx.lineTo(px, a.bottom-15); ctx.stroke(); });
    yTicks.forEach(v=>{ const py = y.getPixelForValue(v); ctx.beginPath(); ctx.moveTo(a.left, py); ctx.lineTo(a.left+15, py); ctx.stroke(); });
    // frame
    ctx.lineWidth = 4.5;
    ctx.strokeRect(a.left, a.top, a.right-a.left, a.bottom-a.top);
    // axis titles
    ctx.fillStyle = TXT; ctx.textAlign = 'center'; ctx.textBaseline = 'middle';
    ctx.font = '71px '+FONT;
    ctx.fillText(xTitle, (a.left+a.right)/2 - 25, a.bottom + 122);
    ctx.save();
    ctx.translate(a.left - 191, (a.top+a.bottom)/2 - 56);
    ctx.rotate(-Math.PI/2);
    ctx.font = '70px '+FONT;
    ctx.fillText(yTitle, 0, 0);
    ctx.restore();
    // legend box
    const bw = 634, bh = opts.legendH, bx = a.right-14-bw, by = a.top+12;
    ctx.fillStyle = '#fff'; ctx.fillRect(bx, by, bw, bh);
    ctx.lineWidth = 4; ctx.strokeStyle = AX; ctx.strokeRect(bx, by, bw, bh);
    chart.data.datasets.forEach((ds, i)=>{
      const yy = by + 38 + i*57.6;
      ctx.strokeStyle = ds.legendColor; ctx.lineWidth = 6;
      ctx.beginPath(); ctx.moveTo(bx+34, yy); ctx.lineTo(bx+208, yy); ctx.stroke();
      ctx.fillStyle = ds.legendColor; ctx.beginPath(); ctx.arc(bx+121, yy, ds.markerR, 0, Math.PI*2); ctx.fill();
      ctx.fillStyle = '#000'; ctx.textBaseline = 'middle'; ctx.textAlign = 'left';
      drawSegments(ctx, legendSegs(ds.label, 47), bx+221, yy+2);
    });
    // panel tag "(a)"
    const tag = opts.tag, cx = (a.left+a.right)/2 - 22, cy = a.bottom + 203;
    const segs = [{t:'(', f:'62px '+FONT},{t:tag, f:'bold 62px '+FONT},{t:')', f:'62px '+FONT}];
    let w = 0; segs.forEach(s=>{ ctx.font = s.f; w += ctx.measureText(s.t).width; });
    ctx.fillStyle = '#333'; ctx.textBaseline = 'middle'; ctx.textAlign = 'left';
    drawSegments(ctx, segs, cx - w/2, cy);
    ctx.restore();
  }
};

panels.forEach((p, pi)=>{
  const A = p.area;
  const left = A.l - Y_W, top = A.t - PAD_T;
  const W = A.r + PAD_R - left, H = A.b + PAD_B - top;
  const cv = document.getElementById(p.id);
  cv.width = W; cv.height = H;
  cv.style.left = left+'px'; cv.style.top = top+'px';
  cv.style.width = W+'px'; cv.style.height = H+'px';
  const datasets = seriesNames.map((name, i)=>({
    label: name,
    data: hours.map((h, k)=>({x:h, y:p.series[i][k]})),
    borderColor: styles[i].color, backgroundColor: styles[i].color,
    borderWidth: styles[i].width, order: styles[i].order,
    pointRadius: 0, pointHoverRadius: 0, fill: false, tension: 0,
    borderJoinStyle: 'round', borderCapStyle: 'round',
    legendColor: styles[i].legend, markerR: styles[i].r
  }));
  new Chart(cv, {
    type: 'line',
    data: {datasets},
    plugins: [decorPlugin],
    options: {
      responsive: false, maintainAspectRatio: false, animation: false, devicePixelRatio: 1,
      events: [],
      layout: {padding: {left:0, top:PAD_T, right:PAD_R, bottom:PAD_B - X_H}},
      plugins: {legend:{display:false}, tooltip:{enabled:false}, title:{display:false},
                decor:{legendH:p.legendH, tag:panelTags[pi]}},
      scales: {
        x: {type:'linear', min:0, max:168,
            afterBuildTicks: s => { s.ticks = xTicks.map(v=>({value:v})); },
            ticks:{autoSkip:false, maxRotation:0, padding:9, color:TXT, font:{family:FONT, size:61}, callback:v=>String(v)},
            grid:{display:false, drawTicks:false, tickLength:0}, border:{display:false},
            title:{display:false, text:xTitle},
            afterFit: s => { s.height = X_H; }},
        y: {type:'linear', min:2000, max:5000,
            afterBuildTicks: s => { s.ticks = yTicks.map(v=>({value:v})); },
            ticks:{autoSkip:false, padding:18, color:TXT, font:{family:FONT, size:61}, callback:v=>String(v)},
            grid:{display:false, drawTicks:false, tickLength:0}, border:{display:false},
            title:{display:false, text:yTitle},
            afterFit: s => { s.width = Y_W; }}
      }
    }
  });
});
</script>
</body></html>
